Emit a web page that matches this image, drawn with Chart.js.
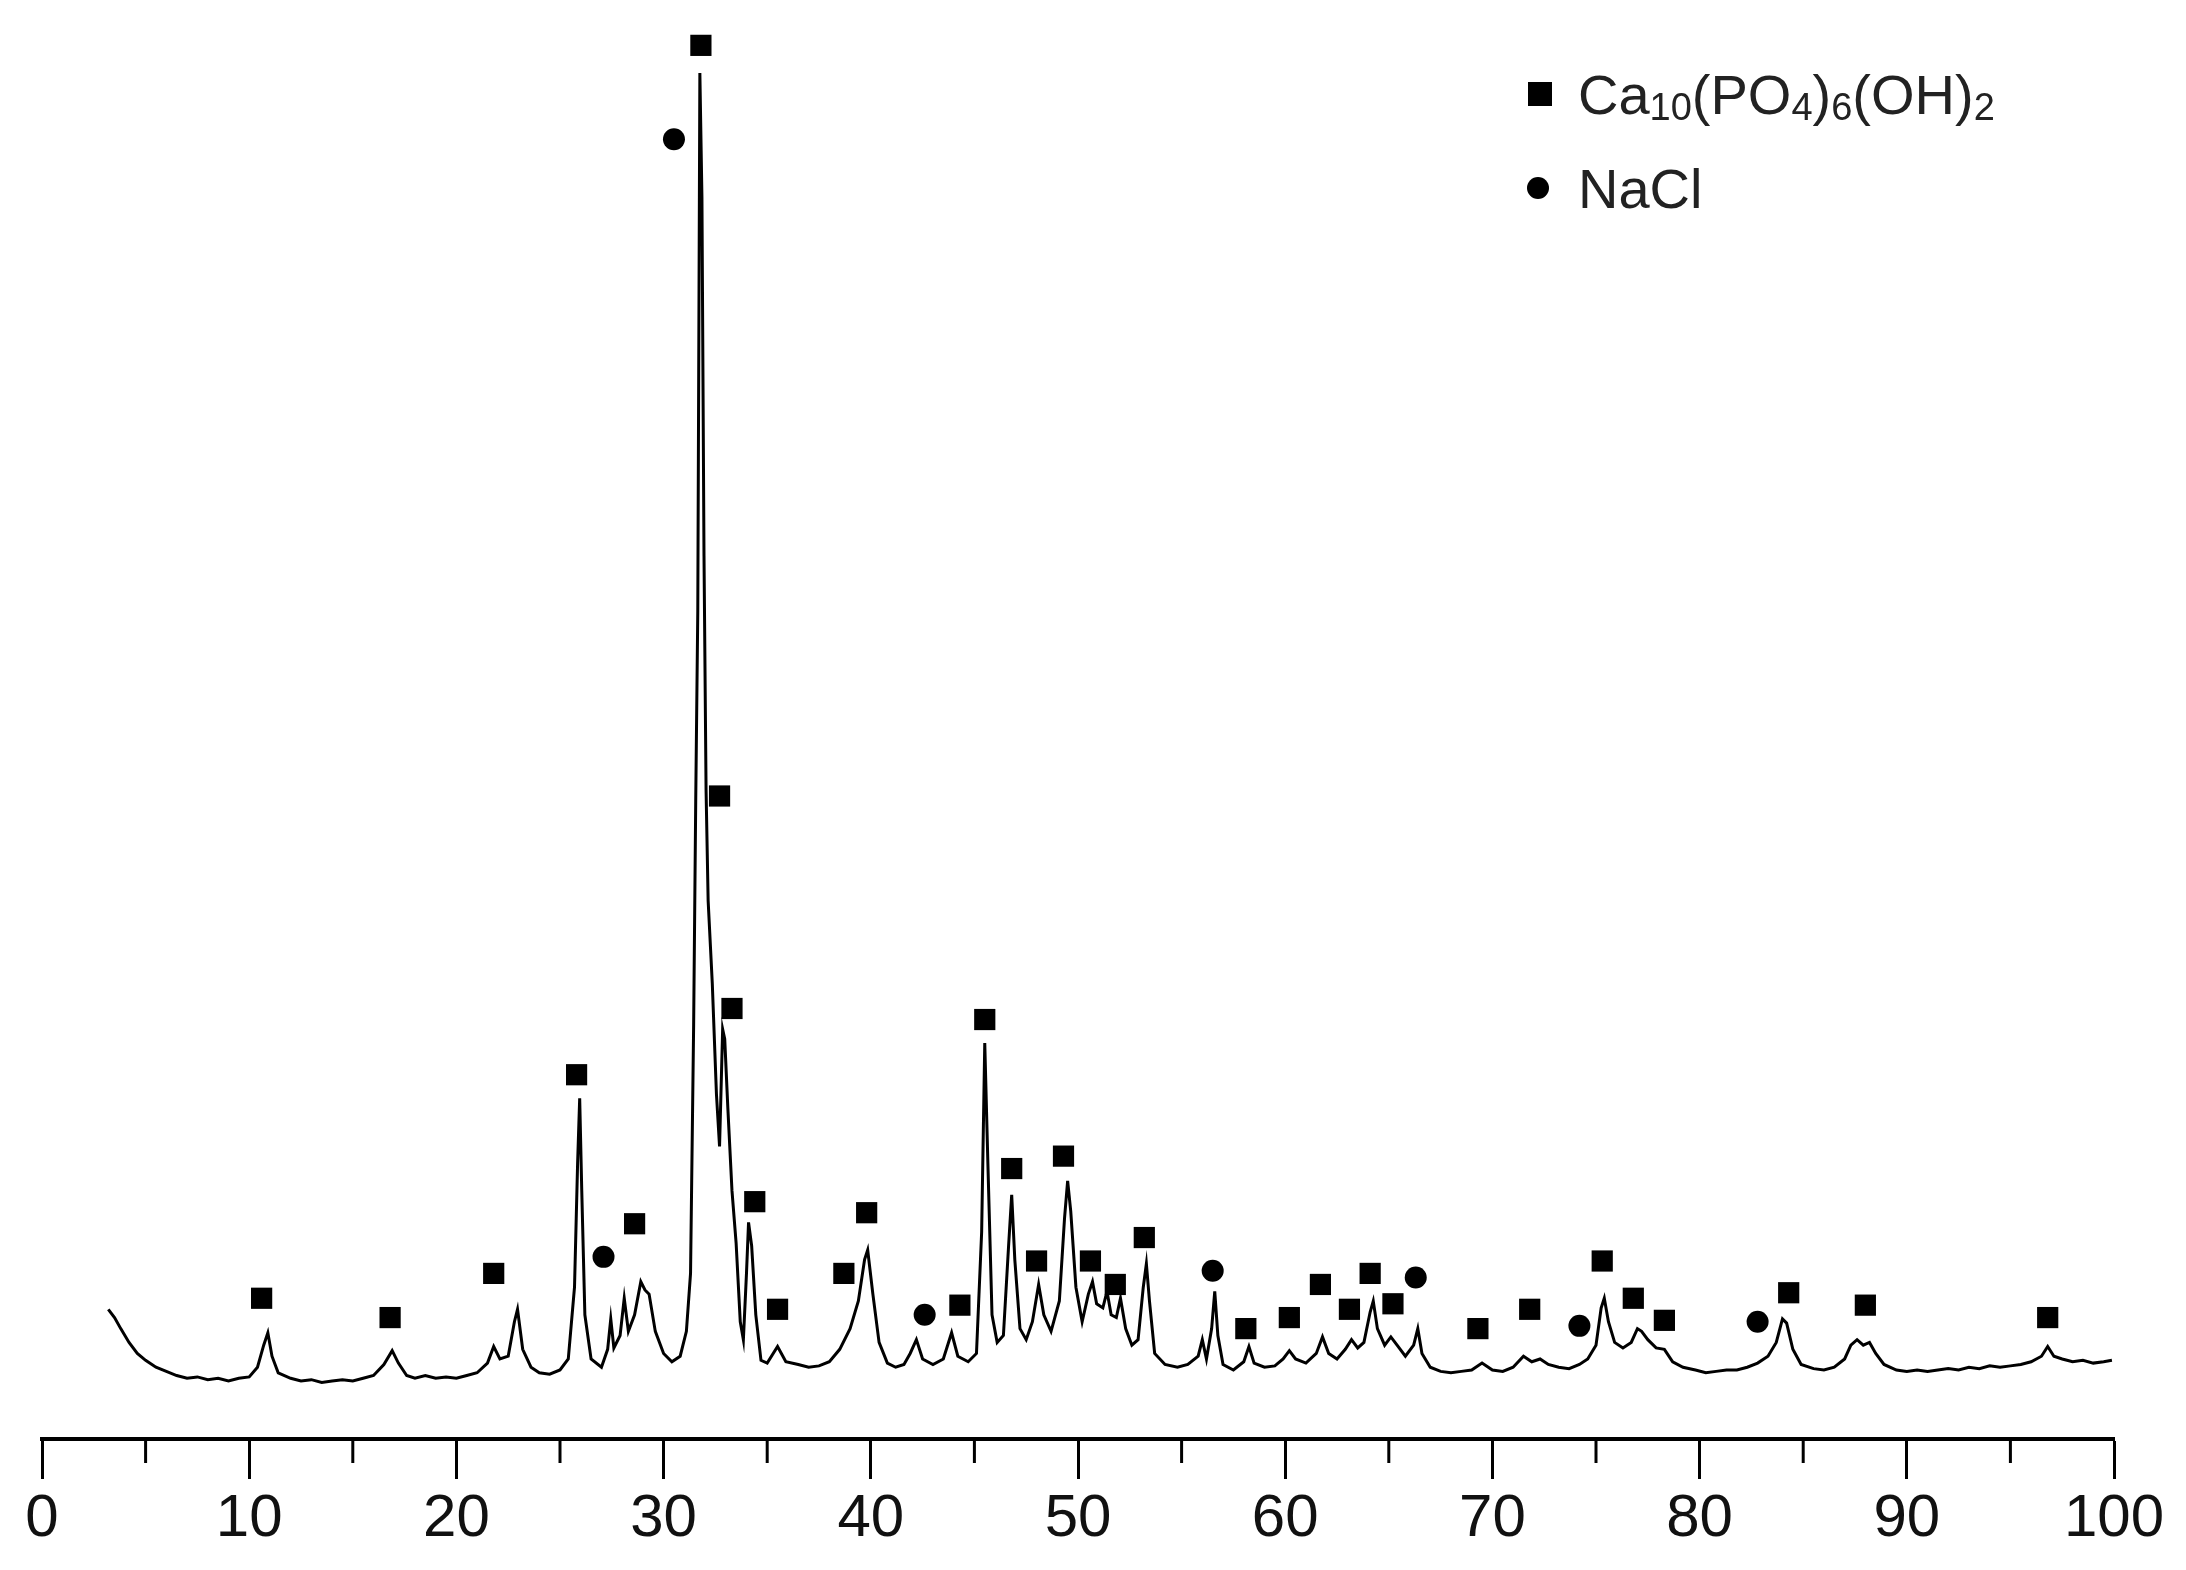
<!DOCTYPE html>
<html><head><meta charset="utf-8">
<script src="https://cdn.jsdelivr.net/npm/chart.js@4/dist/chart.umd.min.js"></script>
<style>html,body{margin:0;padding:0;background:#fff}#wrap{width:2186px;height:1570px}</style>
</head><body><div id="wrap"><canvas id="c" width="2186" height="1570"></canvas></div>
<script>
const twoTheta=[3.2,3.5,3.8,4.2,4.6,5.0,5.5,6.0,6.5,7.0,7.5,8.0,8.5,9.0,9.5,10.0,10.4,10.7,10.9,11.1,11.4,12.0,12.5,13.0,13.5,14.0,14.5,15.0,15.5,16.0,16.5,16.9,17.2,17.6,18.0,18.5,19.0,19.5,20.0,20.5,21.0,21.5,21.8,22.1,22.5,22.8,22.95,23.2,23.6,24.0,24.5,25.0,25.4,25.7,25.85,25.95,26.05,26.2,26.5,27.0,27.3,27.45,27.6,27.9,28.1,28.3,28.6,28.9,29.1,29.3,29.6,30.0,30.4,30.8,31.1,31.3,31.45,31.55,31.65,31.75,31.85,31.95,32.05,32.15,32.35,32.55,32.7,32.85,32.95,33.1,33.3,33.5,33.7,33.85,34.0,34.1,34.25,34.45,34.7,35.0,35.5,35.9,36.5,37.0,37.5,38.0,38.5,39.0,39.4,39.7,39.85,40.1,40.4,40.8,41.2,41.6,41.9,42.2,42.5,43.0,43.5,43.9,44.2,44.7,45.1,45.35,45.5,45.65,45.85,46.1,46.4,46.65,46.8,46.95,47.2,47.5,47.8,48.1,48.35,48.7,49.1,49.35,49.5,49.65,49.9,50.2,50.5,50.7,50.9,51.2,51.4,51.6,51.85,52.05,52.3,52.6,52.9,53.15,53.3,53.45,53.7,54.2,54.8,55.3,55.8,56.0,56.2,56.45,56.6,56.75,57.0,57.5,58.0,58.25,58.5,59.0,59.5,59.9,60.2,60.5,61.0,61.5,61.8,62.1,62.5,62.9,63.2,63.5,63.8,64.1,64.25,64.45,64.8,65.1,65.4,65.8,66.2,66.4,66.6,67.0,67.5,68.0,68.5,69.0,69.5,70.0,70.5,71.0,71.5,71.9,72.3,72.7,73.2,73.7,74.2,74.6,75.0,75.25,75.4,75.6,75.9,76.3,76.7,77.0,77.2,77.5,77.9,78.3,78.7,79.2,79.8,80.3,80.8,81.3,81.8,82.3,82.8,83.3,83.7,84.0,84.2,84.5,84.9,85.5,86.0,86.5,87.0,87.3,87.6,87.9,88.2,88.5,88.9,89.5,90.0,90.5,91.0,91.5,92.0,92.5,93.0,93.5,94.0,94.5,95.0,95.5,96.0,96.5,96.8,97.1,97.5,98.0,98.5,99.0,99.5,99.9];
const intensity=[94,88,80,70,62,57,52,49,46,44,45,43,44,42,44,45,52,68,77,60,48,44,42,43,41,42,43,42,44,46,54,64,55,46,44,46,44,45,44,46,48,55,67,58,60,85,94,65,52,48,47,50,58,110,200,247,180,90,58,52,65,87,66,75,102,78,90,114,108,105,78,62,56,60,78,120,300,462,600,990,900,640,470,390,330,250,212,297,290,240,180,142,85,72,120,157,140,90,57,55,67,56,54,52,53,56,65,80,100,130,137,105,70,55,52,54,62,72,58,54,58,77,60,56,62,150,287,200,90,70,75,140,177,130,80,72,85,112,90,78,100,160,187,165,110,85,105,114,98,95,107,90,88,102,80,68,72,110,127,100,62,54,52,54,60,72,58,80,107,75,54,50,56,67,55,52,53,58,64,58,55,62,74,62,58,65,72,66,70,92,100,80,68,74,68,60,68,80,62,52,49,48,49,50,55,50,49,52,60,56,58,54,52,51,54,58,68,95,102,85,70,66,70,80,78,72,66,65,56,52,50,48,49,50,50,52,55,60,70,87,84,65,54,51,50,52,58,68,72,68,70,62,54,50,49,50,49,50,51,50,52,51,53,52,53,54,56,60,67,60,58,56,57,55,56,57];
const hapX=[10.6,16.8,21.8,25.8,28.6,31.8,32.7,33.3,34.4,35.5,38.7,39.8,44.3,45.5,46.8,48.0,49.3,50.6,51.8,53.2,58.1,60.2,61.7,63.1,64.1,65.2,69.3,71.8,75.3,76.8,78.3,84.3,88.0,96.8];
const hapY=[102,88,120,264,156,1010,466,312,172,94,120,164,97,304,196,129,205,129,112,146,80,88,112,94,120,98,80,94,129,102,86,106,97,88];
const naclX=[30.5,27.1,42.6,56.5,66.3,74.2,82.8];
const naclY=[942,132,90,122,117,82,85];
const xTicks=[0,10,20,30,40,50,60,70,80,90,100];
const minorTicks=[5,15,25,35,45,55,65,75,85,95];

const line=twoTheta.map((x,i)=>({x,y:intensity[i]}));
const hap=hapX.map((x,i)=>({x,y:hapY[i]}));
const nacl=naclX.map((x,i)=>({x,y:naclY[i]}));

const extras={id:'extras',afterDraw(ch){
  const c=ch.ctx, xs=ch.scales.x, b=ch.chartArea.bottom;
  c.save();c.strokeStyle='#000';c.lineWidth=3;
  minorTicks.forEach(v=>{const p=xs.getPixelForValue(v);c.beginPath();c.moveTo(p,b);c.lineTo(p,b+24);c.stroke();});
  c.fillStyle='#000';
  c.fillRect(1528,82,24,24);
  c.beginPath();c.arc(1538,188,11,0,Math.PI*2);c.fill();
  c.fillStyle='#222';c.textBaseline='alphabetic';
  let x=1578;const big='56px "Liberation Sans"',sm='38px "Liberation Sans"',base=114;
  [['Ca',big],['10',sm],['(PO',big],['4',sm],[')',big],['6',sm],['(OH)',big],['2',sm]].forEach(([t,f])=>{
    c.font=f;c.fillText(t,x,base+(f===sm?6:0));x+=c.measureText(t).width;});
  c.font=big;c.fillText('NaCl',1578,208);
  c.restore();
}};

new Chart(document.getElementById('c'),{
  data:{datasets:[
    {type:'line',data:line,borderColor:'#000',borderWidth:3,pointRadius:0,tension:0,fill:false},
    {type:'scatter',data:hap,pointStyle:'rect',pointRadius:15,backgroundColor:'#000',borderWidth:0},
    {type:'scatter',data:nacl,pointStyle:'circle',pointRadius:11,backgroundColor:'#000',borderWidth:0}
  ]},
  options:{responsive:false,devicePixelRatio:1,animation:false,
    layout:{padding:{left:42,right:72,top:0,bottom:0}},
    plugins:{legend:{display:false},tooltip:{enabled:false}},
    scales:{
      x:{type:'linear',min:0,max:100,
        afterBuildTicks(s){s.ticks=xTicks.map(v=>({value:v}));},
        afterFit(s){s.height=131;},
        border:{display:true,color:'#000',width:4},
        grid:{drawOnChartArea:false,drawTicks:true,tickLength:40,tickWidth:3,tickColor:'#000'},
        ticks:{color:'#111',padding:4,maxRotation:0,font:{family:'Liberation Sans',size:60}}},
      y:{display:false,min:0,max:1032}
    }},
  plugins:[extras]
});
</script></body></html>
